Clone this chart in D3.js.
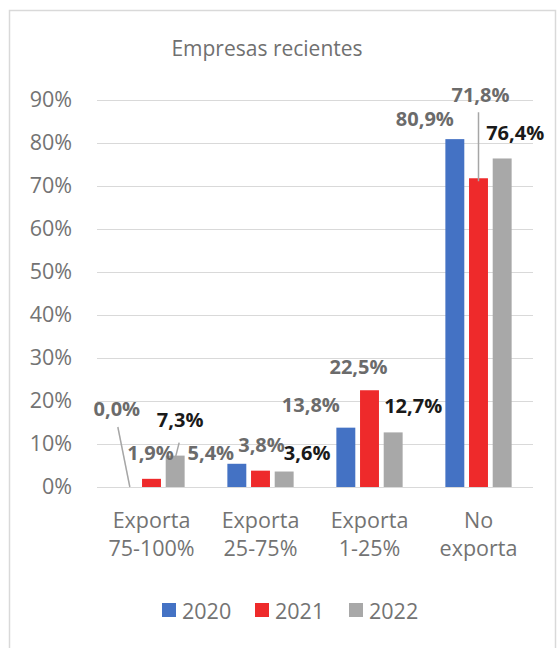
<!DOCTYPE html>
<html>
<head>
<meta charset="utf-8">
<script src="https://cdn.jsdelivr.net/npm/d3@7"></script>
<style>
  body { margin: 0; background: #fff; }
  text { font-family: "Open Sans", sans-serif; }
</style>
</head>
<body>
<div id="chart"></div>
<script>
// data
var categories = [["Exporta", "75-100%"], ["Exporta", "25-75%"], ["Exporta", "1-25%"], ["No", "exporta"]];
var years = ["2020", "2021", "2022"];
var values2020 = [0.0, 5.4, 13.8, 80.9];
var values2021 = [1.9, 3.8, 22.5, 71.8];
var values2022 = [7.3, 3.6, 12.7, 76.4];
var yTicks = [0, 10, 20, 30, 40, 50, 60, 70, 80, 90];

var series = [values2020, values2021, values2022];
var colors = ["#4472C4", "#EE2A2B", "#A8A8A8"];
var labelColors = ["#6b6b6b", "#6b6b6b", "#1a1a1a"];

// manual label placement (offset from bar centre / bar top), like the excel source
var labelOffsets = [
    [[-11, -78], [-26, -11], [-35, -23], [-30, -20]],
    [[-1, -26], [1, -26], [-11, -23], [2, -83]],
    [[5, -36], [23, -19], [20, -27], [13, -26]]
];
// leader lines: [series, category, start offset from label centre]
var leaders = [[0, 0, 1, 18], [2, 0, -1, 23], [1, 3, -2, 17]];

var width = 560, height = 648;
var plotLeft = 97, plotRight = 533, plotTop = 100, plotBottom = 487;

var svg = d3.select("#chart")
    .append("svg")
    .attr("width", width)
    .attr("height", height);

// outer frame
svg.append("rect")
    .attr("x", 9.5).attr("y", 10.5)
    .attr("width", 546).attr("height", 660)
    .attr("fill", "none")
    .attr("stroke", "#d9d9d9")
    .attr("stroke-width", 1.5);

var y = d3.scaleLinear().domain([0, 90]).range([plotBottom, plotTop]);
var x0 = d3.scaleBand().domain(d3.range(categories.length)).range([plotLeft, plotRight]);
var x1 = d3.scaleBand().domain(d3.range(years.length)).range([-35.5, 35.5]).paddingInner(0.2).paddingOuter(0.1);

// title
svg.append("text")
    .attr("x", 267).attr("y", 56)
    .attr("text-anchor", "middle")
    .style("font-size", "21px")
    .style("fill", "#707070")
    .text("Empresas recientes");

// grid + y axis
var yAxis = d3.axisLeft(y)
    .tickValues(yTicks)
    .tickSize(-(plotRight - plotLeft))
    .tickPadding(25)
    .tickFormat(function (d) { return d + "%"; });

var gy = svg.append("g")
    .attr("transform", "translate(" + plotLeft + ",0)")
    .call(yAxis);
gy.select(".domain").remove();
gy.selectAll(".tick line").attr("stroke", "#d9d9d9").attr("stroke-width", 1.2);
gy.selectAll(".tick text")
    .style("font-size", "21.5px")
    .style("fill", "#737373")
    .style("font-family", "'Open Sans', sans-serif");

// bars
series.forEach(function (vals, s) {
    svg.append("g")
        .selectAll("rect")
        .data(vals)
        .enter()
        .append("rect")
        .attr("x", function (d, i) { return x0(i) + x0.bandwidth() / 2 + x1(s); })
        .attr("y", function (d) { return y(d); })
        .attr("width", x1.bandwidth())
        .attr("height", function (d) { return plotBottom - y(d); })
        .attr("fill", colors[s]);
});

function barCenter(s, i) {
    return x0(i) + x0.bandwidth() / 2 + x1(s) + x1.bandwidth() / 2;
}

// leader lines
leaders.forEach(function (l) {
    var s = l[0], i = l[1];
    var v = series[s][i];
    var lx = barCenter(s, i) + labelOffsets[s][i][0];
    var ly = y(v) + labelOffsets[s][i][1];
    svg.append("line")
        .attr("x1", lx + l[2]).attr("y1", ly + l[3])
        .attr("x2", barCenter(s, i) + (v == 0 ? 2 : 0)).attr("y2", y(v) + (v == 0 ? 0 : 3))
        .attr("stroke", "#a6a6a6")
        .attr("stroke-width", 1.5);
});

// data labels
series.forEach(function (vals, s) {
    svg.append("g")
        .selectAll("text")
        .data(vals)
        .enter()
        .append("text")
        .attr("x", function (d, i) { return barCenter(s, i) + labelOffsets[s][i][0]; })
        .attr("y", function (d, i) { return y(d) + labelOffsets[s][i][1]; })
        .attr("dy", "0.36em")
        .attr("text-anchor", "middle")
        .style("font-size", "20px")
        .style("font-weight", "bold")
        .style("fill", labelColors[s])
        .text(function (d) { return d.toFixed(1).replace(".", ",") + "%"; });
});

// category labels
var gx = svg.append("g");
categories.forEach(function (c, i) {
    var t = gx.append("text")
        .attr("x", x0(i) + x0.bandwidth() / 2)
        .attr("y", 528)
        .attr("text-anchor", "middle")
        .style("font-size", "21.5px")
        .style("fill", "#737373");
    t.append("tspan").attr("x", x0(i) + x0.bandwidth() / 2).text(c[0]);
    t.append("tspan").attr("x", x0(i) + x0.bandwidth() / 2).attr("dy", 28).text(c[1]);
});

// legend
var legendX = [162, 255, 349];
years.forEach(function (yr, s) {
    var g = svg.append("g").attr("transform", "translate(" + legendX[s] + ",603)");
    g.append("rect").attr("width", 14).attr("height", 14).attr("fill", colors[s]);
    g.append("text")
        .attr("x", 20).attr("y", 15.5)
        .style("font-size", "21.5px")
        .style("fill", "#737373")
        .text(yr);
});
</script>
</body>
</html>
